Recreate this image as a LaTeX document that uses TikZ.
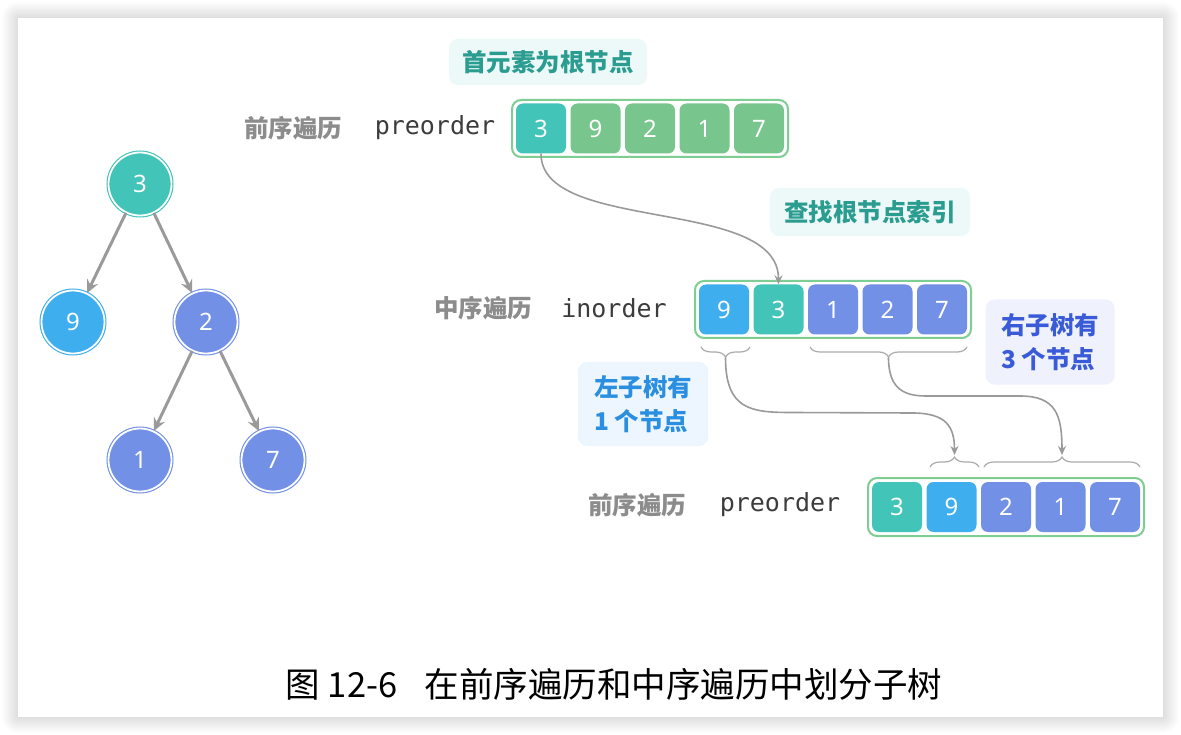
\documentclass[tikz,border=0pt]{standalone}
\usepackage{fontspec}
\usetikzlibrary{arrows.meta,decorations.pathreplacing,calc}
\newfontfamily\cjk{Noto Sans CJK SC}
\newfontfamily\numf{Noto Sans}
\newfontfamily\monof{DejaVu Sans Mono}
\definecolor{cteal}{HTML}{43C4B8}
\definecolor{cgreen}{HTML}{78C58E}
\definecolor{cblue}{HTML}{3EAEEE}
\definecolor{cindigo}{HTML}{7190E6}
\definecolor{boxgreen}{HTML}{7ECD93}
\definecolor{arrgray}{HTML}{9A9A9A}
\definecolor{brgray}{HTML}{ABABAB}
\definecolor{labgray}{HTML}{8C8C8C}
\definecolor{codegray}{HTML}{3C3C3C}
\definecolor{tealbg}{HTML}{EDF8F8}
\definecolor{tealtx}{HTML}{2A9D90}
\definecolor{bluebg}{HTML}{EDF5FE}
\definecolor{bluetx}{HTML}{2A8FE0}
\definecolor{indbg}{HTML}{EFF2FC}
\definecolor{indtx}{HTML}{3A5BD8}
\tikzset{
  cell/.style={rounded corners=7pt, minimum width=50pt, minimum height=50pt, inner sep=0pt, text=white, font=\numf\fontsize{24}{24}\selectfont},
  arrbox/.style={draw=boxgreen, line width=2pt, fill=white, rounded corners=9pt},
  lab/.style={text=labgray, font=\cjk\bfseries\fontsize{24.5}{24.5}\selectfont, inner sep=0pt},
  code/.style={text=codegray, font=\monof\fontsize{25}{25}\selectfont, inner sep=0pt},
  tagbox/.style={rounded corners=9pt, inner sep=0pt, font=\cjk\bfseries\fontsize{24.5}{34}\selectfont, align=center},
  tnode/.style={circle, minimum size=63pt, inner sep=0pt, line width=1.1pt, double=white, double distance=1.8pt, text=white, font=\numf\fontsize{24}{24}\selectfont},
  tarrow/.style={draw=arrgray, line width=3pt, -{Stealth[length=13pt,width=12pt,inset=4.5pt]}},
  carrow/.style={draw=arrgray, line width=1.6pt, -{Stealth[length=9pt,width=8pt,inset=3pt]}},
  brc/.style={draw=brgray, line width=1.2pt, decorate, line cap=round},
}
\begin{document}
\begin{tikzpicture}[x=1pt,y=-1pt]
\useasboundingbox (0,0) rectangle (1181,735);
\fill[white] (0,0) rectangle (1181,735);
\foreach \i in {1,...,16} {
  \fill[black, opacity=0.008, rounded corners=\i pt] (18-\i,18-\i) rectangle (1163+\i,717+\i);
}
\fill[white] (18,18) rectangle (1163,717);

% tree
\node[tnode, fill=cteal, draw=cteal] (t3) at (140,184) {3};
\node[tnode, fill=cblue, draw=cblue] (t9) at (73,322) {9};
\node[tnode, fill=cindigo, draw=cindigo] (t2) at (206,322) {2};
\node[tnode, fill=cindigo, draw=cindigo] (t1) at (140,460) {1};
\node[tnode, fill=cindigo, draw=cindigo] (t7) at (273,460) {7};
\draw[tarrow] (t3) -- (t9);
\draw[tarrow] (t3) -- (t2);
\draw[tarrow] (t2) -- (t1);
\draw[tarrow] (t2) -- (t7);

% top preorder
\node[tagbox, fill=tealbg, text=tealtx, minimum width=198pt, minimum height=46pt] (tag1) at (548,62) {首元素为根节点};
\node[lab] (lp1) at (293,128) {前序遍历};
\node[code] (cp1) at (435,128) {preorder};
\draw[arrbox] (512,100) rectangle (788,157);
\node[cell, fill=cteal] (p0) at (541,128.5) {3};
\node[cell, fill=cgreen] (p1) at (595.5,128.5) {9};
\node[cell, fill=cgreen] (p2) at (650,128.5) {2};
\node[cell, fill=cgreen] (p3) at (704.5,128.5) {1};
\node[cell, fill=cgreen] (p4) at (759,128.5) {7};

% inorder
\node[tagbox, fill=tealbg, text=tealtx, minimum width=200pt, minimum height=48pt] (tag2) at (870,212) {查找根节点索引};
\node[lab] (li) at (483,308) {中序遍历};
\node[code] (ci) at (614,308) {inorder};
\draw[arrbox] (695,281) rectangle (971,338);
\node[cell, fill=cblue] (i0) at (724,309.5) {9};
\node[cell, fill=cteal] (i1) at (778.5,309.5) {3};
\node[cell, fill=cindigo] (i2) at (833,309.5) {1};
\node[cell, fill=cindigo] (i3) at (887.5,309.5) {2};
\node[cell, fill=cindigo] (i4) at (942,309.5) {7};

\draw[carrow] (p0.south) .. controls ($(p0.south)+(0,80)$) and ($(i1.north)+(0,-88)$) .. (i1.north);

% labels for subtrees
\node[tagbox, fill=indbg, text=indtx, minimum width=129pt, minimum height=85pt, align=left] (tag3) at (1050,342) {右子树有\\3 个节点};
\node[tagbox, fill=bluebg, text=bluetx, minimum width=130pt, minimum height=84pt, align=left] (tag4) at (643,404) {左子树有\\1 个节点};

% braces
\draw[brc, decoration={brace, mirror, amplitude=10pt}] (701,347) -- (750,347);
\draw[brc, decoration={brace, mirror, amplitude=10pt}] (810,347) -- (967,347);
\draw[brc, decoration={brace, amplitude=10pt}] (930,467) -- (979,467);
\draw[brc, decoration={brace, amplitude=10pt}] (984,467) -- (1140,467);
\coordinate (bt1) at (725.5,357.5);
\coordinate (bt2) at (888.5,357.5);
\coordinate (bb1) at (954.5,455);
\coordinate (bb2) at (1062,455);
\draw[carrow] (bt1) .. controls ($(bt1)+(0,52)$) and ($(bt1)+(25,55)$) .. ($(bt1)+(66,55)$) -- ($(bb1)+(-42,-42)$) .. controls ($(bb1)+(-8,-42)$) and ($(bb1)+(0,-28)$) .. (bb1);
\draw[carrow] (bt2) .. controls ($(bt2)+(0,32)$) and ($(bt2)+(16,38.5)$) .. ($(bt2)+(38,38.5)$) -- ($(bb2)+(-42,-59)$) .. controls ($(bb2)+(-6,-59)$) and ($(bb2)+(0,-40)$) .. (bb2);

% bottom preorder
\node[lab] (lp2) at (637,505) {前序遍历};
\node[code] (cp2) at (780,505) {preorder};
\draw[arrbox] (868,478) rectangle (1144,536);
\node[cell, fill=cteal] (q0) at (897,507) {3};
\node[cell, fill=cblue] (q1) at (951.5,507) {9};
\node[cell, fill=cindigo] (q2) at (1006,507) {2};
\node[cell, fill=cindigo] (q3) at (1060.5,507) {1};
\node[cell, fill=cindigo] (q4) at (1115,507) {7};

% caption
\node[font=\cjk\fontsize{34.5}{34.5}\selectfont, inner sep=0pt] (cap) at (614,684) {图 12-6\hspace{0.8em}在前序遍历和中序遍历中划分子树};
\end{tikzpicture}
\end{document}
